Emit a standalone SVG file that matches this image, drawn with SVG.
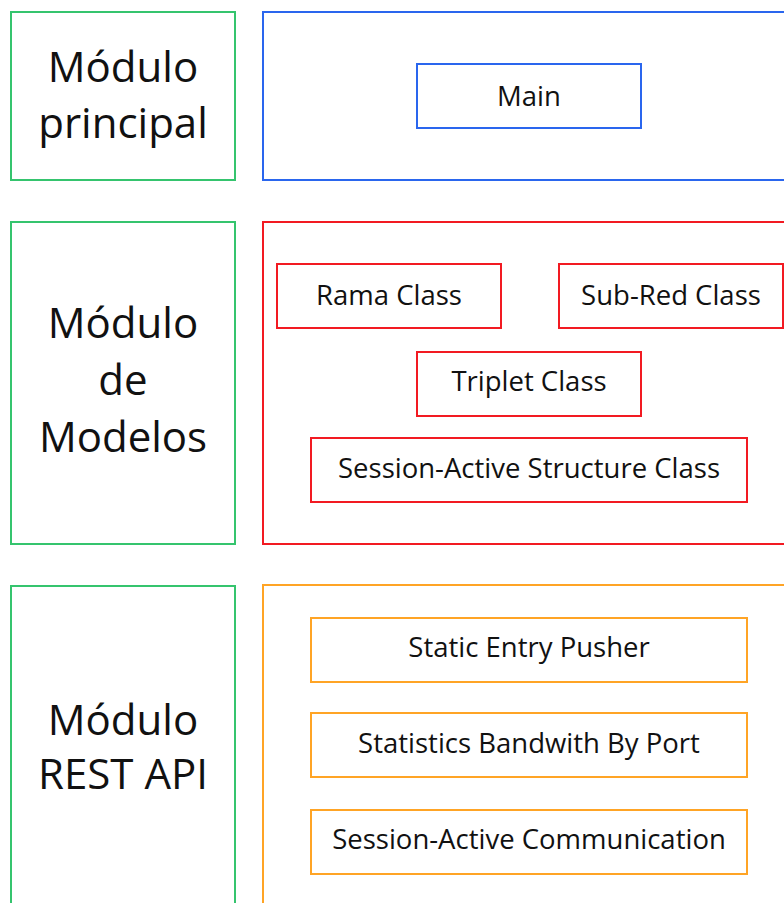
<svg xmlns="http://www.w3.org/2000/svg" width="784" height="903" viewBox="0 0 784 903">
<style>
  .bg { fill: #ffffff; }
  rect { fill: #ffffff; stroke-width: 2; }
  .g { stroke: #35c46e; }
  .b { stroke: #2a66ee; }
  .r { stroke: #f21a22; }
  .o { stroke: #ffa425; }
  text { font-family: "Open Sans", "DejaVu Sans", sans-serif; fill: #111111; text-anchor: middle; }
  .big { font-size: 42px; }
  .sm { font-size: 27.5px; }
</style>
<rect class="bg" x="0" y="0" width="784" height="903" style="stroke:none"/>

<g id="label-principal">
  <rect class="g" x="11" y="12" width="224" height="168"/>
  <text class="big" x="123" y="82">Módulo</text>
  <text class="big" x="123" y="138">principal</text>
</g>
<g id="module-principal">
  <rect class="b" x="263" y="12" width="540" height="168"/>
</g>
<g id="main">
  <rect class="b" x="417" y="64" width="224" height="64"/>
  <text class="sm" x="529" y="106">Main</text>
</g>

<g id="label-modelos">
  <rect class="g" x="11" y="222" width="224" height="322"/>
  <text class="big" x="123" y="338">Módulo</text>
  <text class="big" x="123" y="395">de</text>
  <text class="big" x="123" y="452">Modelos</text>
</g>
<g id="module-modelos">
  <rect class="r" x="263" y="222" width="540" height="322"/>
</g>
<g id="rama">
  <rect class="r" x="277" y="264" width="224" height="64"/>
  <text class="sm" x="389" y="305">Rama Class</text>
</g>
<g id="subred">
  <rect class="r" x="559" y="264" width="224" height="64"/>
  <text class="sm" x="671" y="305">Sub-Red Class</text>
</g>
<g id="triplet">
  <rect class="r" x="417" y="352" width="224" height="64"/>
  <text class="sm" x="529" y="391">Triplet Class</text>
</g>
<g id="session-structure">
  <rect class="r" x="311" y="438" width="436" height="64"/>
  <text class="sm" x="529" y="478">Session-Active Structure Class</text>
</g>

<g id="label-rest">
  <rect class="g" x="11" y="586" width="224" height="340"/>
  <text class="big" x="123" y="735">Módulo</text>
  <text class="big" x="123" y="789">REST API</text>
</g>
<g id="module-rest">
  <rect class="o" x="263" y="585" width="540" height="340"/>
</g>
<g id="static-entry">
  <rect class="o" x="311" y="618" width="436" height="64"/>
  <text class="sm" x="529" y="657">Static Entry Pusher</text>
</g>
<g id="statistics">
  <rect class="o" x="311" y="713" width="436" height="64"/>
  <text class="sm" x="529" y="753">Statistics Bandwith By Port</text>
</g>
<g id="session-comm">
  <rect class="o" x="311" y="810" width="436" height="64"/>
  <text class="sm" x="529" y="849">Session-Active Communication</text>
</g>
<g id="connectors"></g>
</svg>
